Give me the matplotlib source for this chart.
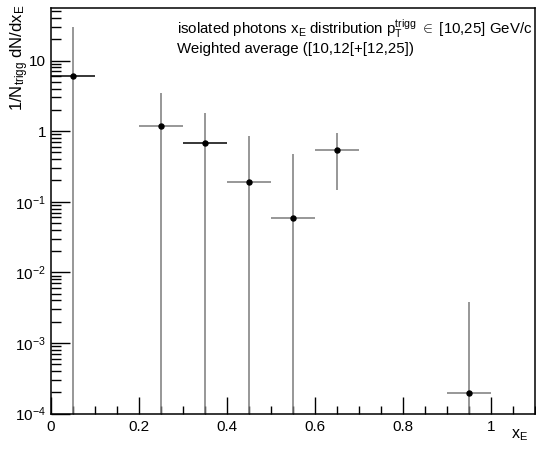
import matplotlib
matplotlib.use("Agg")
import matplotlib.pyplot as plt
import numpy as np
from matplotlib.ticker import MultipleLocator, LogLocator, NullFormatter, FuncFormatter

plt.rcParams['font.family'] = ['Liberation Sans', 'DejaVu Sans']
plt.rcParams['mathtext.fontset'] = 'custom'
plt.rcParams['mathtext.rm'] = 'Liberation Sans'
plt.rcParams['mathtext.it'] = 'Liberation Sans:italic'
plt.rcParams['mathtext.sf'] = 'Liberation Sans'

x_centers = [0.05, 0.25, 0.35, 0.45, 0.55, 0.65, 0.95]
x_halfwidth = [0.05, 0.05, 0.05, 0.05, 0.05, 0.05, 0.05]
y_values = [5.97, 1.18, 0.672, 0.188, 0.0593, 0.540, 1.97e-4]
y_errors = [23.8, 2.29, 1.12, 0.665, 0.415, 0.395, 3.63e-3]

fig = plt.figure(figsize=(5.36, 4.50), dpi=100)
ax = fig.add_axes([0.0951, 0.0811, 0.903, 0.901])
ax.set_yscale('log')
ax.set_xlim(0, 1.1)
ax.set_ylim(1e-4, 55.4)

xc = np.array(x_centers)
yv = np.array(y_values)
ye = np.array(y_errors)
lo = np.maximum(yv - ye, 1e-8)
hi = yv + ye
gray = '#7a7a7a'
ax.vlines(xc, lo, hi, color=gray, lw=1.1, zorder=2)
hcolors = ['black', gray, 'black', gray, gray, gray, gray]
for x, w, y, c in zip(xc, x_halfwidth, yv, hcolors):
    ax.hlines(y, x - w, x + w, color=c, lw=1.1, zorder=2)
ax.plot(xc, yv, 'o', color='black', ms=3.6, zorder=3)

ax.xaxis.set_major_locator(MultipleLocator(0.2))
ax.xaxis.set_minor_locator(MultipleLocator(0.05))
ax.xaxis.set_major_formatter(FuncFormatter(lambda v, p: '0' if abs(v) < 1e-9 else ('1' if abs(v-1) < 1e-9 else f'{v:.1f}')))
ax.yaxis.set_major_locator(LogLocator(base=10, numticks=20))
ax.yaxis.set_minor_locator(LogLocator(base=10, subs=np.arange(2, 10), numticks=20))
ax.yaxis.set_minor_formatter(NullFormatter())

def yfmt(v, p):
    e = int(round(np.log10(v)))
    if e == 0:
        return '1'
    if e == 1:
        return '10'
    return r'10$^{%d}$' % e
ax.yaxis.set_major_formatter(FuncFormatter(yfmt))

ax.tick_params(which='both', direction='in', top=False, right=False, labelsize=11, color='black')
ax.tick_params(which='major', length=14, width=1)
ax.tick_params(which='minor', length=7, width=1)
ax.tick_params(axis='x', which='major', length=12)
ax.tick_params(axis='x', which='minor', length=6)
ax.tick_params(axis='x', pad=5)
for s in ax.spines.values():
    s.set_linewidth(1.1)

ax.text(0.26, 0.975, r'isolated photons x$_{\rm E}$ distribution p$_{\rm T}^{\rm trigg}$ $\in$ [10,25] GeV/c',
        transform=ax.transAxes, fontsize=10.8, va='top', ha='left')
ax.text(0.26, 0.917, 'Weighted average ([10,12[+[12,25])',
        transform=ax.transAxes, fontsize=10.8, va='top', ha='left')

fig.text(0.985, 0.015, r'x$_{\rm E}$', fontsize=11.5, ha='right', va='bottom')
fig.text(0.015, 0.99, r'1/N$_{\rm trigg}$ dN/dx$_{\rm E}$', fontsize=12, rotation=90, ha='left', va='top')

fig.savefig('out.png', dpi=100)
